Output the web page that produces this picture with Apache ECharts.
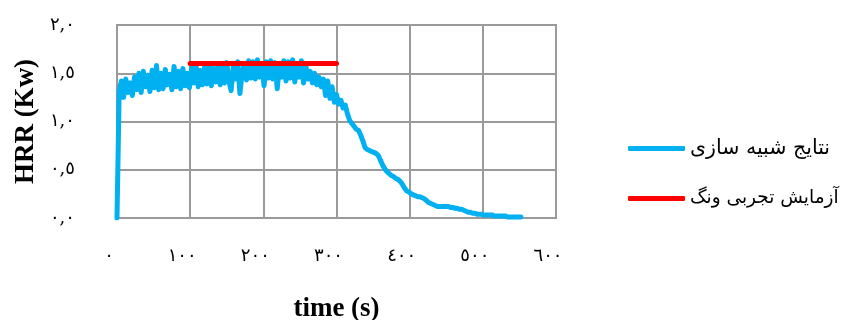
<!DOCTYPE html>
<html>
<head>
<meta charset="utf-8">
<script src="https://cdn.jsdelivr.net/npm/echarts@6/dist/echarts.min.js"></script>
<style>html,body{margin:0;padding:0;background:#fff;}#c{width:854px;height:320px;}</style>
</head>
<body>
<div id="c"></div>
<script>
// Data
const xTickLabels = ['٠', '١٠٠', '٢٠٠', '٣٠٠', '٤٠٠', '٥٠٠', '٦٠٠'];
const yTickLabels = ['٠,٠', '٠,٥', '١,٠', '١,٥', '٢,٠'];
const seriesNames = ['نتایج شبیه سازی', 'آزمایش تجربی ونگ'];
const sampleStep = 3; // seconds between simulation samples
const simHRR = [
  0.00, 1.32, 1.42, 1.25, 1.44, 1.30, 1.40, 1.27, 1.46, 1.33,
  1.50, 1.30, 1.52, 1.36, 1.48, 1.31, 1.53, 1.35, 1.58, 1.33,
  1.50, 1.34, 1.54, 1.38, 1.49, 1.33, 1.57, 1.36, 1.52, 1.34,
  1.55, 1.37, 1.50, 1.35, 1.56, 1.40, 1.58, 1.36, 1.53, 1.38,
  1.58, 1.39, 1.60, 1.37, 1.55, 1.41, 1.59, 1.38, 1.56, 1.40,
  1.61, 1.42, 1.32, 1.57, 1.44, 1.62, 1.29, 1.50, 1.60, 1.43,
  1.63, 1.45, 1.62, 1.44, 1.64, 1.46, 1.60, 1.37, 1.62, 1.45,
  1.63, 1.44, 1.61, 1.34, 1.58, 1.46, 1.63, 1.42, 1.62, 1.45,
  1.64, 1.41, 1.60, 1.46, 1.63, 1.40, 1.58, 1.44, 1.52, 1.40,
  1.50, 1.38, 1.46, 1.36, 1.44, 1.27, 1.42, 1.24, 1.36, 1.20,
  1.28, 1.18, 1.22, 1.14, 1.17, 1.08, 1.01, 0.98, 0.95, 0.92,
  0.91, 0.86, 0.80, 0.73, 0.71, 0.70, 0.69, 0.68, 0.67, 0.65,
  0.60, 0.55, 0.51, 0.48, 0.46, 0.44, 0.43, 0.41, 0.40, 0.38,
  0.35, 0.31, 0.28, 0.27, 0.25, 0.24, 0.23, 0.22, 0.22, 0.21,
  0.20, 0.18, 0.16, 0.15, 0.14, 0.13, 0.12, 0.12, 0.12, 0.12,
  0.12, 0.12, 0.11, 0.11, 0.10, 0.10, 0.09, 0.09, 0.08, 0.07,
  0.06, 0.06, 0.05, 0.05, 0.04, 0.04, 0.04, 0.03, 0.03, 0.03,
  0.03, 0.03, 0.02, 0.02, 0.02, 0.02, 0.02, 0.02, 0.01, 0.01,
  0.01, 0.01, 0.01, 0.01, 0.01
];
const expTime = [100, 300];
const expHRR = [1.6, 1.6];

const simData = simHRR.map((v, i) => [i * sampleStep, v]);
const expData = expTime.map((t, i) => [t, expHRR[i]]);

const chart = echarts.init(document.getElementById('c'), null, {renderer: 'canvas'});
const gridColor = '#9a9a9a';
chart.setOption({
  animation: false,
  backgroundColor: '#ffffff',
  grid: {left: 117, right: 298, top: 25, bottom: 102, containLabel: false, outerBoundsMode: 'none',
         show: true, borderColor: gridColor, borderWidth: 2},
  xAxis: {
    type: 'value', min: 0, max: 600, interval: 100,
    name: 'time (s)', nameLocation: 'middle', nameGap: 91,
    nameTextStyle: {fontFamily: 'Liberation Serif', fontWeight: 'bold', fontSize: 27, color: '#000', verticalAlign: 'middle'},
    axisLine: {show: true, lineStyle: {color: gridColor, width: 2}},
    axisTick: {show: false},
    splitLine: {show: true, lineStyle: {color: gridColor, width: 2}},
    axisLabel: {
      margin: 29, fontSize: 18, color: '#000', fontFamily: 'DejaVu Serif, DejaVu Sans',
      padding: [0, 16, 0, 0],
      formatter: (v) => xTickLabels[Math.round(v / 100)]
    }
  },
  yAxis: {
    type: 'value', min: 0, max: 2, interval: 0.5,
    name: 'HRR (Kw)', nameLocation: 'middle', nameGap: 77, nameRotate: 90,
    nameTextStyle: {fontFamily: 'Liberation Serif', fontWeight: 'bold', fontSize: 27, color: '#000'},
    axisLine: {show: true, lineStyle: {color: gridColor, width: 2}},
    axisTick: {show: false},
    splitLine: {show: true, lineStyle: {color: gridColor, width: 2}},
    axisLabel: {
      margin: 42, fontSize: 18, color: '#000', fontFamily: 'DejaVu Serif, DejaVu Sans',
      padding: [0, 0, 8, 0],
      formatter: (v) => yTickLabels[Math.round(v / 0.5)]
    }
  },
  legend: {
    orient: 'vertical', left: 623, top: 133, itemWidth: 57, itemHeight: 5, itemGap: 30,
    icon: 'roundRect',
    textStyle: {fontFamily: 'DejaVu Sans', fontSize: 20, color: '#000'},
    data: [
      {name: seriesNames[0], itemStyle: {color: '#00B0F0'}, textStyle: {fontSize: 20.5}},
      {name: seriesNames[1], itemStyle: {color: '#FF0000'}, textStyle: {fontSize: 18.5}}
    ]
  },
  series: [
    {name: seriesNames[0], type: 'line', data: simData, showSymbol: false, symbol: 'none',
     lineStyle: {color: '#00B0F0', width: 5, cap: 'round', join: 'round'}, itemStyle: {color: '#00B0F0'}, z: 2},
    {name: seriesNames[1], type: 'line', data: expData, showSymbol: false, symbol: 'none',
     lineStyle: {color: '#FF0000', width: 5, cap: 'round'}, itemStyle: {color: '#FF0000'}, z: 3}
  ]
});
</script>
</body>
</html>
